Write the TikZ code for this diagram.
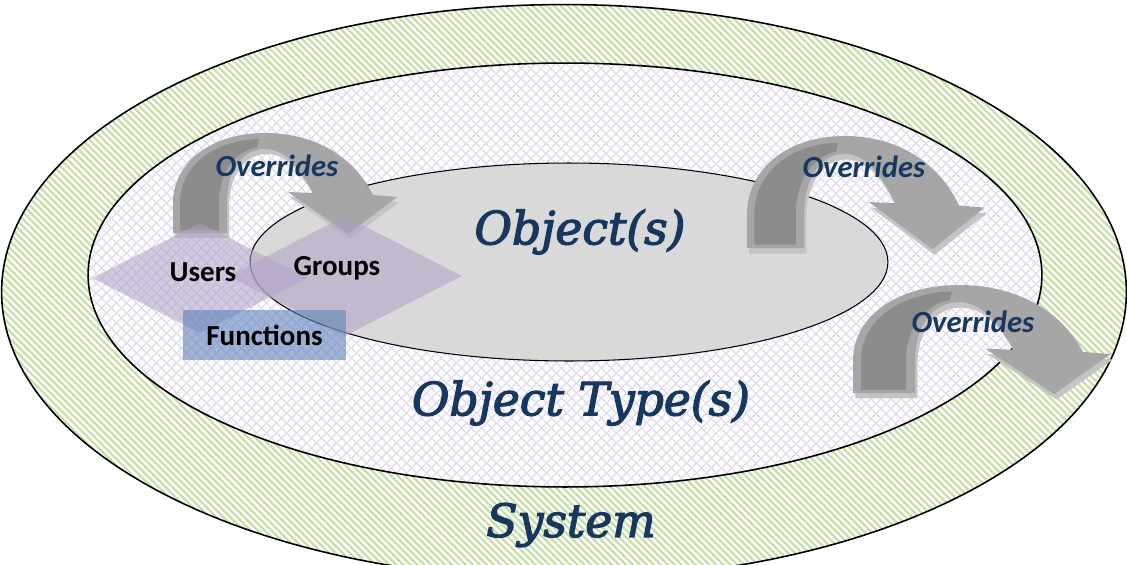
\documentclass[tikz,border=0pt]{standalone}
\usepackage{fontspec}
\setmainfont{Carlito}
\newfontfamily\titlefont[ItalicFeatures={FakeBold=2.8}]{DejaVu Serif}
\usetikzlibrary{shapes.geometric, patterns.meta}

\definecolor{navy}{RGB}{23,55,94}
\definecolor{arrowgray}{RGB}{166,166,166}
\definecolor{arrowdark}{RGB}{140,140,140}
\definecolor{arrowlight}{RGB}{196,196,196}
\definecolor{innerfill}{RGB}{217,217,217}
\definecolor{stripegreen}{RGB}{200,222,168}
\definecolor{weave}{RGB}{226,222,240}
\definecolor{lilac}{RGB}{178,160,200}
\definecolor{steel}{RGB}{95,130,185}

\tikzset{
  ring/.style={ellipse, draw, line width=0.9pt, inner sep=0pt},
  title/.style={font=\titlefont\itshape\fontsize{26}{30}\selectfont, text=navy},
  over/.style={font=\bfseries\itshape\fontsize{17.5}{20}\selectfont, text=navy},
  tag/.style={font=\bfseries\fontsize{16.5}{19}\selectfont},
  rank/.style={fill=lilac, fill opacity=0.55, inner sep=0pt},
  % bent arrow, origin at the outer foot
  overarrow/.pic={
    \fill[arrowlight, shift={(2,5)}] (0,0) -- (0,-30) .. controls (0,-72) and (40,-100) .. (92,-100)
      .. controls (140,-100) and (180,-78) .. (200,-38) -- (224,-36) -- (175,1) -- (115,-41) -- (140,-40)
      .. controls (126,-66) and (112,-84) .. (92,-84) .. controls (70,-84) and (54,-64) .. (54,-30)
      -- (54,0) -- cycle;
    \fill[arrowgray] (0,0) -- (0,-30) .. controls (0,-72) and (40,-100) .. (92,-100)
      .. controls (140,-100) and (180,-78) .. (200,-38) -- (224,-36) -- (175,1) -- (115,-41) -- (140,-40)
      .. controls (126,-66) and (112,-84) .. (92,-84) .. controls (70,-84) and (54,-64) .. (54,-30)
      -- (54,0) -- cycle;
    \fill[arrowdark] (7,-3) -- (7,-30) .. controls (7,-68) and (42,-93) .. (86,-94)
      -- (84,-86) .. controls (62,-82) and (46,-60) .. (46,-30) -- (46,-3) -- cycle;
  }
}

\begin{document}
\begin{tikzpicture}[x=0.02cm, y=-0.02cm]
\useasboundingbox (0,0) rectangle (1127,565);

% the three levels
\node[ring, preaction={fill=white}, pattern={Lines[angle=-45,distance=2.8pt,line width=1.3pt]},
  pattern color=stripegreen, minimum width=22.5cm, minimum height=11.5cm] (system) at (564,292) {};
\node[ring, preaction={fill=white}, pattern={Hatch[angle=45,distance=4pt,line width=0.8pt]},
  pattern color=weave, minimum width=19.08cm, minimum height=8.48cm] (types) at (565,275) {};
\node[ring, fill=innerfill, line width=0.6pt, minimum width=12.76cm, minimum height=3.96cm] (objects) at (569,262) {};

\node[title] (objectlbl) at (580,232) {Object(s)};
\node[title] (typelbl) at (581,403) {Object Type(s)};
\node[title] (systemlbl) at (571,525) {System};

% override arrows
\pic at (173,233) {overarrow};
\pic[xscale=1.06, yscale=1.12] at (747,248) {overarrow};
\pic[xscale=1.15, yscale=1.08] at (853,393) {overarrow};

\node[over] (ovr1) at (277,166) {Overrides};
\node[over] (ovr2) at (864,167) {Overrides};
\node[over] (ovr3) at (973,322) {Overrides};

% who can override
\node[rank, diamond, minimum width=4.32cm, minimum height=2.2cm] (users) at (200,278) {};
\node[rank, diamond, minimum width=4.68cm, minimum height=2.4cm] (groups) at (345,276) {};
\node[fill=steel, fill opacity=0.6, text opacity=1, tag, minimum width=3.26cm, minimum height=1cm] (funcs) at (264.5,335) {Functions};
\node[tag] (userslbl) at (203,272) {Users};
\node[tag] (groupslbl) at (337,268) {Groups};

\end{tikzpicture}
\end{document}
